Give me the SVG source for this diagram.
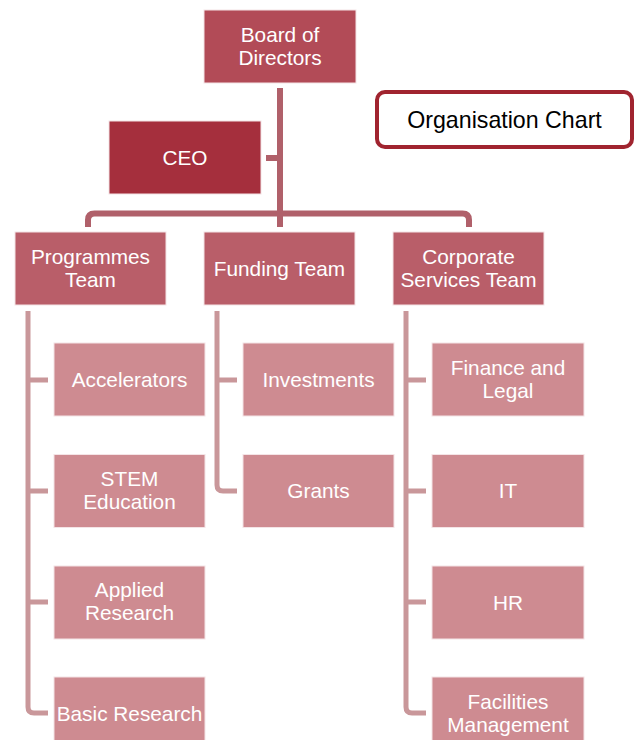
<svg xmlns="http://www.w3.org/2000/svg" width="641" height="740" viewBox="0 0 641 740">
<style>
text{font-family:"Liberation Sans",Arial,sans-serif;font-size:20.8px;fill:#fff;text-anchor:middle}
.top{fill:#b24b57}
.ceo{fill:#a52f3d}
.team{fill:#b95e69}
.child{fill:#ce8b91}
.box{stroke:#f4e4e6;stroke-width:1}
.c1{fill:none;stroke:#b0606a;stroke-width:6}
.c2{fill:none;stroke:#c9979a;stroke-width:5}
</style>
<rect width="641" height="740" fill="#fff"/>
<g id="connectors">
<path class="c1" d="M280,88 V227"/>
<path class="c1" d="M266,158 H280"/>
<path class="c1" d="M88,227 V220 Q88,213.5 94.5,213.5 H462.5 Q469,213.5 469,220 V227"/>
<path class="c2" d="M28,311 V707 Q28,713 34,713 H48"/>
<path class="c2" d="M28,380 H48 M28,491 H48 M28,602 H48"/>
<path class="c2" d="M217,311 V485 Q217,491 223,491 H237"/>
<path class="c2" d="M217,380 H237"/>
<path class="c2" d="M406,311 V707 Q406,713 412,713 H426"/>
<path class="c2" d="M406,380 H426 M406,491 H426 M406,602 H426"/>
</g>
<g id="board"><rect class="top box" x="204" y="10" width="152" height="73"/><text x="280" y="41.5">Board of</text><text x="280" y="64.5">Directors</text></g>
<g id="ceo"><rect class="ceo box" x="109" y="121" width="152" height="73"/><text x="185" y="164.5">CEO</text></g>
<g id="title"><rect x="377" y="92" width="255" height="55" rx="8" fill="#fff" stroke="#a0242f" stroke-width="4"/><text x="504.5" y="128" style="fill:#000;font-size:23.2px">Organisation Chart</text></g>
<g id="programmes"><rect class="team box" x="15" y="232" width="151" height="73"/><text x="90.5" y="263.5">Programmes</text><text x="90.5" y="286.5">Team</text></g>
<g id="funding"><rect class="team box" x="204" y="232" width="151" height="73"/><text x="279.5" y="276">Funding Team</text></g>
<g id="corporate"><rect class="team box" x="393" y="232" width="151" height="73"/><text x="468.5" y="263.5">Corporate</text><text x="468.5" y="286.5">Services Team</text></g>
<g id="accelerators"><rect class="child box" x="54" y="343" width="151" height="73"/><text x="129.5" y="387">Accelerators</text></g>
<g id="stem"><rect class="child box" x="54" y="454.5" width="151" height="73"/><text x="129.5" y="486">STEM</text><text x="129.5" y="509">Education</text></g>
<g id="applied"><rect class="child box" x="54" y="566" width="151" height="73"/><text x="129.5" y="597">Applied</text><text x="129.5" y="620">Research</text></g>
<g id="basic"><rect class="child box" x="54" y="677" width="151" height="73"/><text x="129.5" y="720.5">Basic Research</text></g>
<g id="investments"><rect class="child box" x="243" y="343" width="151" height="73"/><text x="318.5" y="387">Investments</text></g>
<g id="grants"><rect class="child box" x="243" y="454.5" width="151" height="73"/><text x="318.5" y="498">Grants</text></g>
<g id="finance"><rect class="child box" x="432" y="343" width="152" height="73"/><text x="508" y="374.5">Finance and</text><text x="508" y="397.5">Legal</text></g>
<g id="it"><rect class="child box" x="432" y="454.5" width="152" height="73"/><text x="508" y="498">IT</text></g>
<g id="hr"><rect class="child box" x="432" y="566" width="152" height="73"/><text x="508" y="609.5">HR</text></g>
<g id="facilities"><rect class="child box" x="432" y="677" width="152" height="73"/><text x="508" y="708.5">Facilities</text><text x="508" y="731.5">Management</text></g>
</svg>
